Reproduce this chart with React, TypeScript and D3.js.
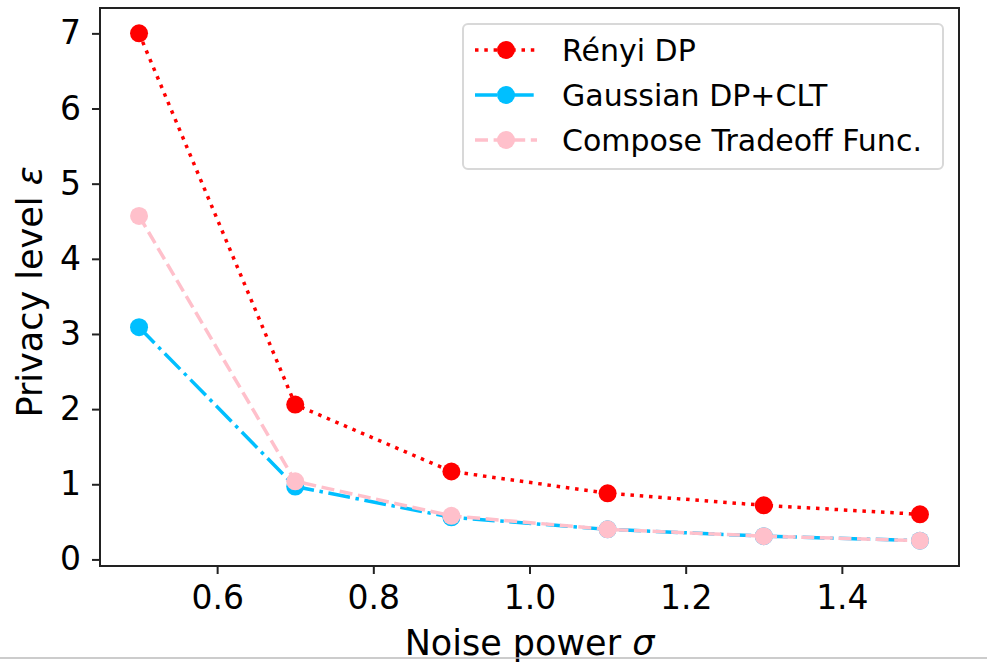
import React, { useRef, useEffect } from 'react';
import * as d3 from 'd3';

// noise power sigma
const sigmas = [0.5, 0.7, 0.9, 1.1, 1.3, 1.5];

// privacy level epsilon per method
const renyiDP = [7.0, 2.06, 1.17, 0.88, 0.72, 0.6];
const gaussianCLT = [3.09, 0.97, 0.56, 0.4, 0.31, 0.25];
const composeTradeoff = [4.57, 1.04, 0.58, 0.4, 0.31, 0.25];

const xTicks = [0.6, 0.8, 1.0, 1.2, 1.4];
const yTicks = [0, 1, 2, 3, 4, 5, 6, 7];

const series = [
  { name: 'Rényi DP', values: renyiDP, color: '#ff0000', dash: '3.5,5.8' },
  { name: 'Gaussian DP+CLT', values: gaussianCLT, color: '#00bfff', dash: '22,5.6,3.5,5.6' },
  { name: 'Compose Tradeoff Func.', values: composeTradeoff, color: '#ffc0cb', dash: '13,5.6' },
];

const App = () => {
  const ref = useRef<SVGSVGElement>(null);

  useEffect(() => {
    const svg = d3.select(ref.current);
    svg.selectAll('*').remove();

    const width = 987;
    const height = 663;
    const margin = { top: 8, right: 28, bottom: 97, left: 100 };
    const font = 'DejaVu Sans, sans-serif';

    svg.append('rect').attr('width', width).attr('height', height).attr('fill', '#fff');

    // matplotlib style auto margins (5%)
    const x = d3.scaleLinear()
      .domain([0.45, 1.55])
      .range([margin.left, width - margin.right]);

    const y = d3.scaleLinear()
      .domain([-0.0875, 7.3375])
      .range([height - margin.bottom, margin.top]);

    const line = d3.line<number>()
      .x((_, i) => x(sigmas[i]))
      .y(d => y(d));

    // lines and markers
    series.forEach(s => {
      svg.append('path')
        .datum(s.values)
        .attr('d', line)
        .attr('fill', 'none')
        .attr('stroke', s.color)
        .attr('stroke-width', 3.5)
        .attr('stroke-dasharray', s.dash);

      svg.append('g')
        .selectAll('circle')
        .data(s.values)
        .enter()
        .append('circle')
        .attr('cx', (_, i) => x(sigmas[i]))
        .attr('cy', d => y(d))
        .attr('r', 9)
        .attr('fill', s.color);
    });

    // frame
    svg.append('rect')
      .attr('x', margin.left)
      .attr('y', margin.top)
      .attr('width', width - margin.left - margin.right)
      .attr('height', height - margin.top - margin.bottom)
      .attr('fill', 'none')
      .attr('stroke', '#222')
      .attr('stroke-width', 2);

    const xAxis = svg.append('g')
      .attr('transform', `translate(0,${height - margin.bottom})`)
      .call(d3.axisBottom(x).tickValues(xTicks).tickFormat(d3.format('.1f')).tickSize(8).tickPadding(12));
    xAxis.select('.domain').remove();
    xAxis.selectAll('line').attr('stroke', '#222').attr('stroke-width', 2);
    xAxis.selectAll('text')
      .attr('font-family', font)
      .attr('font-size', 33)
      .attr('fill', '#000');

    const yAxis = svg.append('g')
      .attr('transform', `translate(${margin.left},0)`)
      .call(d3.axisLeft(y).tickValues(yTicks).tickFormat(d3.format('d')).tickSize(8).tickPadding(11));
    yAxis.select('.domain').remove();
    yAxis.selectAll('line').attr('stroke', '#222').attr('stroke-width', 2);
    yAxis.selectAll('text')
      .attr('font-family', font)
      .attr('font-size', 33)
      .attr('fill', '#000');

    // axis labels, greek symbols in italic like mathtext
    const xLabel = svg.append('text')
      .attr('x', (margin.left + width - margin.right) / 2)
      .attr('y', 655)
      .attr('text-anchor', 'middle')
      .attr('font-family', font)
      .attr('font-size', 35)
      .attr('fill', '#000');
    xLabel.append('tspan').text('Noise power ');
    xLabel.append('tspan').attr('font-style', 'italic').text('σ');

    const yLabel = svg.append('text')
      .attr('transform', 'translate(42,292) rotate(-90)')
      .attr('text-anchor', 'middle')
      .attr('font-family', font)
      .attr('font-size', 35)
      .attr('fill', '#000');
    yLabel.append('tspan').text('Privacy level ');
    yLabel.append('tspan').attr('font-style', 'italic').text('ε');

    // legend
    const legend = svg.append('g');
    legend.append('rect')
      .attr('x', 463)
      .attr('y', 24)
      .attr('width', 480)
      .attr('height', 145)
      .attr('rx', 5)
      .attr('fill', '#fff')
      .attr('stroke', '#d8d8d8')
      .attr('stroke-width', 2);

    series.forEach((s, i) => {
      const cy = 50 + i * 45;
      legend.append('line')
        .attr('x1', 475)
        .attr('x2', 537)
        .attr('y1', cy)
        .attr('y2', cy)
        .attr('stroke', s.color)
        .attr('stroke-width', 3.5)
        .attr('stroke-dasharray', s.dash);
      legend.append('circle')
        .attr('cx', 506)
        .attr('cy', cy)
        .attr('r', 9)
        .attr('fill', s.color);
      legend.append('text')
        .attr('x', 562)
        .attr('y', cy + 11)
        .attr('font-family', font)
        .attr('font-size', 30)
        .attr('fill', '#000')
        .text(s.name);
    });

    // thin gray rule at the bottom edge
    svg.append('line')
      .attr('x1', 0)
      .attr('x2', width)
      .attr('y1', 658)
      .attr('y2', 658)
      .attr('stroke', '#bbb')
      .attr('stroke-width', 1.5);
  }, []);

  return (
    <svg
      ref={ref}
      width={987}
      height={663}
      style={{ position: 'absolute', left: 0, top: 0, display: 'block' }}
    />
  );
};

export default App;
